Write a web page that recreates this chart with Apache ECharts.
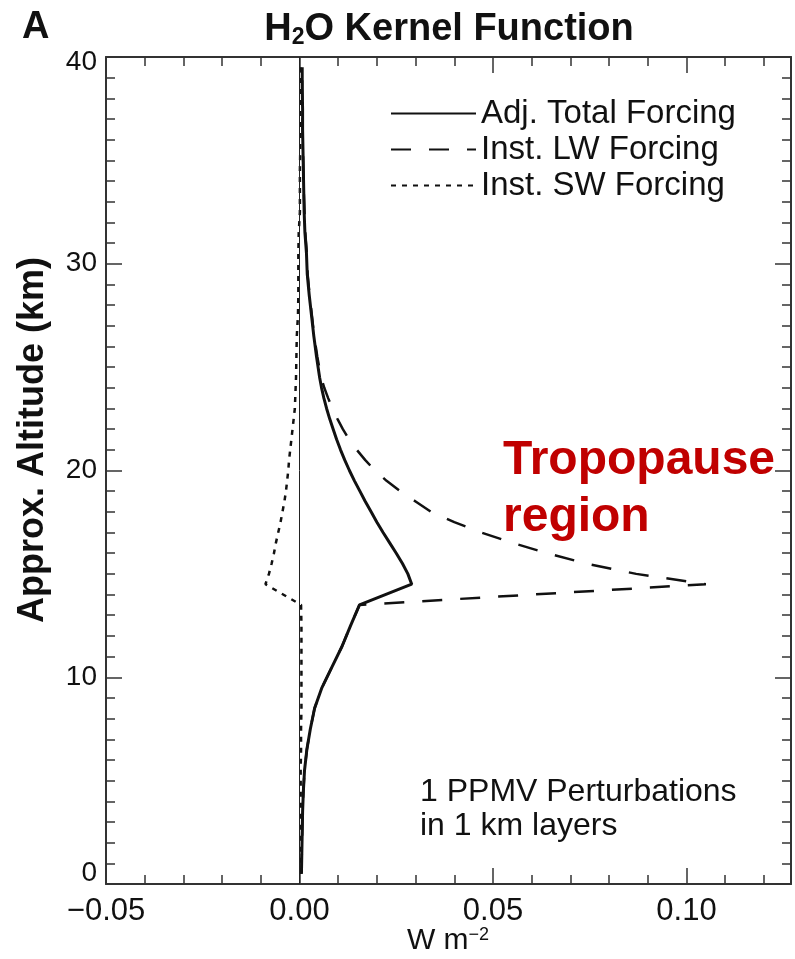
<!DOCTYPE html>
<html><head><meta charset="utf-8">
<script src="https://cdn.jsdelivr.net/npm/echarts@6/dist/echarts.min.js"></script>
<style>html,body{margin:0;padding:0;background:#fff}#c{width:795px;height:959px}</style>
</head><body><div id="c"></div>
<script>
// ---- data (altitude in km, forcing in W m^-2) ----
const altitude = [0.5,1.5,2.5,3.5,4.5,5.5,6.5,7.5,8.5,9.5,10.5,11.5,12.5,13.5,
  14.5,15,15.5,16,16.5,17,17.5,18,18.5,19,19.5,20,20.5,21,21.5,22,22.5,23,23.5,24,24.5,
  25.5,26.5,27.5,28.5,29.5,30.5,31.5,32.5,33.5,34.5,35.5,36.5,37.5,38.5,39.5];
const adjTotal = [0.0005,0.0006,0.0007,0.0008,0.0010,0.0013,0.0019,0.0028,0.0039,0.0058,0.0084,0.0110,0.0132,0.0155,
  0.0290,0.0280,0.0266,0.0250,0.0233,0.0216,0.0200,0.0185,0.0170,0.0156,0.0142,0.0129,0.0117,0.0106,0.0096,0.0087,0.0078,0.0070,0.0063,0.0057,0.0052,
  0.0044,0.0037,0.0031,0.0025,0.0020,0.0018,0.0014,0.0012,0.0011,0.0010,0.0009,0.0008,0.0008,0.0007,0.0007];
const instLW = [0.0005,0.0006,0.0007,0.0008,0.0010,0.0013,0.0019,0.0028,0.0039,0.0058,0.0084,0.0110,0.0132,0.0155,
  0.1050,0.0870,0.0740,0.0640,0.0550,0.0470,0.0400,0.0340,0.0300,0.0260,0.0225,0.0195,0.0170,0.0148,0.0128,0.0112,0.0098,0.0085,0.0074,0.0064,0.0056,
  0.0046,0.0038,0.0032,0.0026,0.0021,0.0019,0.0015,0.0013,0.0011,0.0010,0.0009,0.0008,0.0008,0.0007,0.0007];
const instSW = [0.0002,0.0002,0.0002,0.0003,0.0003,0.0003,0.0004,0.0004,0.0005,0.0005,0.0005,0.0005,0.0005,0.0004,
  -0.0088,-0.0079,-0.0072,-0.0066,-0.0061,-0.0055,-0.0049,-0.0044,-0.0039,-0.0035,-0.0032,-0.0029,-0.0027,-0.0024,-0.0021,-0.0018,-0.0015,-0.0012,-0.0011,-0.0010,-0.0009,
  -0.0008,-0.0007,-0.0004,-0.0003,-0.0003,-0.0003,-0.0002,0.0001,0.0001,0.0001,0.0002,0.0002,0.0002,0.0002,0.0002];
const seriesNames = ['Adj. Total Forcing','Inst. LW Forcing','Inst. SW Forcing'];
const xTickValues = [-0.05, 0, 0.05, 0.10];
const xTickLabels = ['\u22120.05','0.00','0.05','0.10'];
const yTickValues = [0,10,20,30,40];
const yTickLabels = ['0','10','20','30','40'];
const xRange = [-0.05, 0.127];
const yRange = [0, 40];

const FONT = 'Liberation Sans, Arial, Helvetica, sans-serif';
const INK = '#111';
const pairs = v => v.map((x, i) => [x, altitude[i]]);
const lookup = (vals, labs, v) => { for (let i = 0; i < vals.length; i++) if (Math.abs(vals[i] - v) < 1e-6) return labs[i]; return ''; };

function xAxisDef(pos, interval, len, labels, line) {
  return { type:'value', position: pos, min: xRange[0], max: xRange[1], interval: interval,
    axisLine:{show: line, onZero:false, lineStyle:{color:'#333', width:2}},
    axisTick:{show:true, inside:true, length:len, lineStyle:{color:'#333', width:1.5}},
    axisLabel:{show: labels, showMaxLabel:false, margin:12, fontSize:31, color:INK, fontFamily:FONT,
      formatter: v => lookup(xTickValues, xTickLabels, v)},
    splitLine:{show:false} };
}
function yAxisDef(pos, interval, len, labels, line) {
  return { type:'value', position: pos, min: yRange[0], max: yRange[1], interval: interval,
    axisLine:{show: line, onZero:false, lineStyle:{color:'#333', width:2}},
    axisTick:{show:true, inside:true, length:len, lineStyle:{color:'#333', width:1.5}},
    axisLabel:{show: labels, margin:9, fontSize:28, color:INK, fontFamily:FONT,
      formatter: v => { const t = lookup(yTickValues, yTickLabels, v); if (v === yRange[0]) return '{lo|' + t + '}'; if (v === yRange[1]) return '{hi|' + t + '}'; return t; },
      rich:{ lo:{fontSize:28, fontFamily:FONT, color:INK, padding:[0,0,22,0]}, hi:{fontSize:28, fontFamily:FONT, color:INK, padding:[10,0,0,0]} } },
    splitLine:{show:false} };
}

const chart = echarts.init(document.getElementById('c'), null, {renderer:'canvas'});
chart.setOption({
  animation:false,
  backgroundColor:'#fff',
  grid:{left:106, right:4, top:57, bottom:75, containLabel:false},
  xAxis:[ xAxisDef('bottom',0.05,16,true,true), xAxisDef('bottom',0.01,9,false,false),
          xAxisDef('top',0.05,16,false,true), xAxisDef('top',0.01,9,false,false) ],
  yAxis:[ yAxisDef('left',10,16,true,true), yAxisDef('left',1,9,false,false),
          yAxisDef('right',10,16,false,true), yAxisDef('right',1,9,false,false) ],
  legend:{ orient:'vertical', left:385, top:92, itemWidth:85, itemHeight:14, itemGap:3,
    data: seriesNames, itemStyle:{opacity:0},
    textStyle:{fontSize:33, fontFamily:FONT, color:INK, lineHeight:30} },
  series:[
    { name: seriesNames[2], type:'line', data: pairs(instSW), symbol:'none', z:2,
      lineStyle:{color:INK, width:2.5, type:[5,6]}, itemStyle:{color:INK},
      markLine:{ silent:true, symbol:'none', label:{show:false}, animation:false,
        lineStyle:{color:'#222', width:1, type:'solid'}, data:[{xAxis:0}] } },
    { name: seriesNames[1], type:'line', data: pairs(instLW), symbol:'none', z:3,
      lineStyle:{color:INK, width:2.5, type:[20,18]}, itemStyle:{color:INK} },
    { name: seriesNames[0], type:'line', data: pairs(adjTotal), symbol:'none', z:4,
      lineStyle:{color:INK, width:3, type:'solid'}, itemStyle:{color:INK} }
  ],
  graphic:[
    { type:'text', x:22, y:9, style:{text:'A', fontSize:38, fontWeight:'bold', fontFamily:FONT, fill:INK} },
    { type:'text', x:449, y:11, style:{ text:'{m|H}{s|2}{m|O Kernel Function}', align:'center', textAlign:'center', fill:INK,
        rich:{ m:{fontSize:38, fontWeight:'bold', fontFamily:FONT, lineHeight:38, verticalAlign:'top', padding:[0,0,10,0], fill:INK, color:INK},
               s:{fontSize:23, fontWeight:'bold', fontFamily:FONT, lineHeight:23, verticalAlign:'bottom', fill:INK, color:INK} } } },
    { type:'text', x:33, y:440, rotation:Math.PI/2, style:{text:'Approx. Altitude (km)', align:'center', verticalAlign:'middle',
        textAlign:'center', textVerticalAlign:'middle', fontSize:36, fontWeight:'bold', fontFamily:FONT, fill:INK} },
    { type:'text', x:448, y:926, style:{ text:'{n|W m}{p|\u22122}', align:'center', textAlign:'center', fill:INK,
        rich:{ n:{fontSize:30, fontFamily:FONT, lineHeight:30, verticalAlign:'bottom', color:INK},
               p:{fontSize:18, fontFamily:FONT, lineHeight:18, verticalAlign:'top', color:INK} } } },
    { type:'text', x:503, y:432, style:{text:'Tropopause\nregion', fontSize:48, fontWeight:'bold', fontFamily:FONT, fill:'#C00000', lineHeight:57} },
    { type:'text', x:420, y:775, style:{text:'1 PPMV Perturbations\nin 1 km layers', fontSize:32, fontFamily:FONT, fill:INK, lineHeight:34} }
  ]
});
</script></body></html>
